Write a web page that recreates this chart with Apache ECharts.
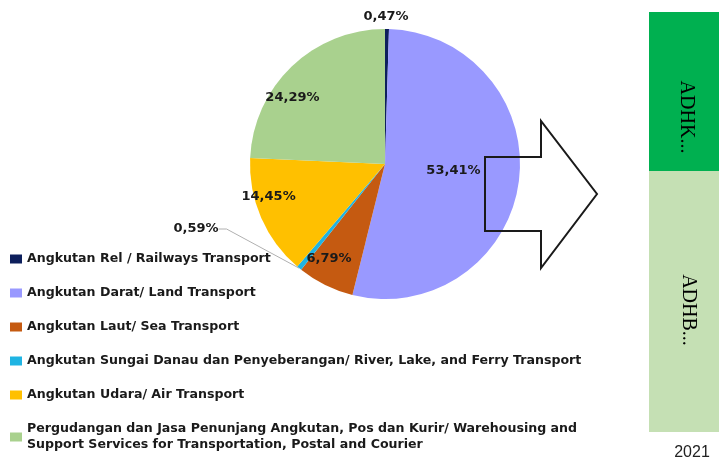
<!DOCTYPE html>
<html>
<head>
<meta charset="utf-8">
<script src="https://cdn.jsdelivr.net/npm/echarts@6/dist/echarts.min.js"></script>
<style>
    html, body { margin: 0; padding: 0; background: #fff; }
    #main { width: 719px; height: 461px; }
</style>
</head>
<body>
<div id="main"></div>
<script>
// kategori / categories
var categories = [
    'Angkutan Rel / Railways Transport',
    'Angkutan Darat/ Land Transport',
    'Angkutan Laut/ Sea Transport',
    'Angkutan Sungai Danau dan Penyeberangan/ River, Lake, and Ferry Transport',
    'Angkutan Udara/ Air Transport',
    'Pergudangan dan Jasa Penunjang Angkutan, Pos dan Kurir/ Warehousing and\nSupport Services for Transportation, Postal and Courier'
];
var shares = [0.47, 53.41, 6.79, 0.59, 14.45, 24.29];
var labelText = ['0,47%', '53,41%', '6,79%', '0,59%', '14,45%', '24,29%'];
var colors = ['#0d1f5c', '#9999ff', '#c55a11', '#1fb4e3', '#ffc000', '#a9d18e'];
var boxLabels = ['ADHK...', 'ADHB...'];
var yearLabel = '2021';

var cx = 385, cy = 164, r = 135;
// geser label ke arah luar (faktor x / y)
var shiftX = [1, 0.98, 1.8, 1, 1.8, 1.9];
var shiftY = [1, 0.7, 1.5, 1, 1.15, 1.3];

var myChart = echarts.init(document.getElementById('main'));

var pieData = [];
for (var i = 0; i < shares.length; i++) {
    pieData.push({
        name: categories[i],
        value: shares[i],
        itemStyle: {color: colors[i]},
        label: (i == 0 || i == 3) ? {position: 'outside'} : {position: 'inside'},
        labelLine: {show: i == 3, length: 8, length2: 8}
    });
}

myChart.setOption({
    animation: false,
    textStyle: {fontFamily: 'DejaVu Sans'},
    legend: {
        orient: 'vertical',
        left: 5,
        top: 246,
        height: 220,
        itemWidth: 12,
        itemHeight: 9,
        itemGap: 18,
        icon: 'rect',
        data: categories,
        textStyle: {
            fontSize: 12.6,
            fontWeight: 'bold',
            color: '#1a1a1a',
            lineHeight: 16
        }
    },
    series: [
        {
            type: 'pie',
            center: [cx, cy],
            radius: r,
            startAngle: 90,
            clockwise: true,
            data: pieData,
            itemStyle: {borderWidth: 0},
            emphasis: {disabled: true},
            label: {
                show: true,
                fontSize: 13,
                fontWeight: 'bold',
                color: '#1a1a1a',
                formatter: function(p) {
                    return labelText[p.dataIndex];
                }
            },
            labelLine: {lineStyle: {color: '#b0b0b0', width: 1}},
            labelLayout: function(p) {
                var i = p.dataIndex;
                if (i == 0) {
                    return {x: cx + 1, y: cy - r - 12, align: 'center', verticalAlign: 'middle'};
                }
                if (i == 3) {
                    return {x: 196, y: 229, align: 'center', verticalAlign: 'middle'};
                }
                var lx = p.labelRect.x + p.labelRect.width / 2;
                var ly = p.labelRect.y + p.labelRect.height / 2;
                return {dx: (lx - cx) * (shiftX[i] - 1), dy: (ly - cy) * (shiftY[i] - 1)};
            }
        }
    ],
    graphic: [
        {
            type: 'polygon',
            z: 10,
            shape: {points: [[485, 157], [541, 157], [541, 121], [597, 194], [541, 268], [541, 231], [485, 231]]},
            style: {fill: 'none', stroke: '#1a1a1a', lineWidth: 2}
        },
        {
            type: 'rect',
            shape: {x: 649, y: 12, width: 70, height: 159},
            style: {fill: '#00b050'}
        },
        {
            type: 'rect',
            shape: {x: 649, y: 171, width: 70, height: 261},
            style: {fill: '#c5e0b4'}
        },
        {
            type: 'text',
            x: 686, y: 117,
            rotation: -Math.PI / 2,
            style: {text: boxLabels[0], font: '20px "Liberation Serif"', fill: '#000', align: 'center', verticalAlign: 'middle'}
        },
        {
            type: 'text',
            x: 688, y: 310,
            rotation: -Math.PI / 2,
            style: {text: boxLabels[1], font: '20px "Liberation Serif"', fill: '#000', align: 'center', verticalAlign: 'middle'}
        },
        {
            type: 'text',
            x: 692, y: 453,
            style: {text: yearLabel, font: '16px "Liberation Sans"', fill: '#222', align: 'center', verticalAlign: 'middle'}
        }
    ]
});
</script>
</body>
</html>
